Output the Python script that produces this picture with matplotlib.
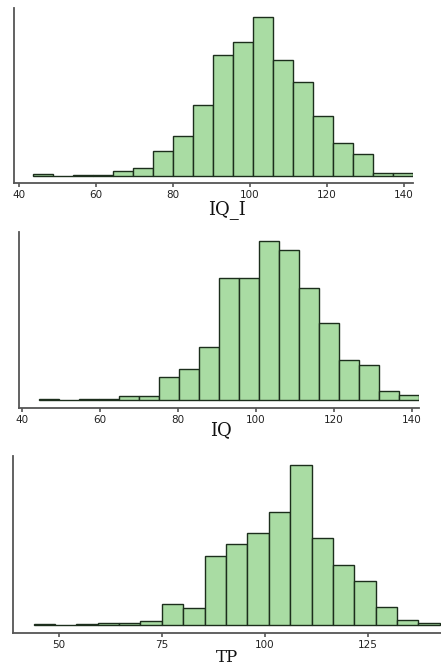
import numpy as np
import matplotlib
matplotlib.use('Agg')
import matplotlib.pyplot as plt

# Histogram bins (counts are in arbitrary units, y axis unlabeled)
iqi_start, iqi_width = 43.6, 5.195
iqi_counts = [3, 0, 1, 1, 7, 12, 37, 60, 107, 181, 200, 238, 174, 140, 90, 50, 33, 5, 5]

iq_start, iq_width = 44.4, 5.126
iq_counts = [2, 0, 1, 1, 6, 6, 35, 47, 80, 183, 183, 239, 225, 168, 116, 60, 53, 13, 7]

tp_start, tp_width = 43.8, 5.19
tp_counts = [1, 0, 1, 2, 2, 5, 31, 25, 102, 120, 136, 168, 238, 129, 89, 65, 27, 7, 3]

fill = '#a9dca3'
edge = '#1c2e1c'

fig = plt.figure(figsize=(4.41, 6.66), dpi=100)


def px_axes(left, top, right, bottom):
    W, H = 441, 666
    return fig.add_axes([left / W, 1 - bottom / H, (right - left) / W, (bottom - top) / H])


def hist_panel(ax, start, width, counts, xlim, ticks, label, label_x, label_y, ylim, label_size=13):
    edges = start + width * np.arange(len(counts))
    ax.bar(edges, counts, width=width, align='edge', color=fill,
           edgecolor=edge, linewidth=1.0)
    ax.set_xlim(*xlim)
    ax.set_ylim(*ylim)
    ax.set_xticks(ticks)
    ax.set_xticklabels([str(t) for t in ticks], fontsize=7.5, color='#222222')
    ax.set_yticks([])
    for s in ['top', 'right']:
        ax.spines[s].set_visible(False)
    for s in ['left', 'bottom']:
        ax.spines[s].set_linewidth(1.3)
        ax.spines[s].set_color('#555555')
    ax.tick_params(axis='x', length=3, width=1.2, color='#555555', pad=2)
    ax.set_xlabel(label, fontsize=label_size, family='DejaVu Serif', color='#111111')
    ax.xaxis.set_label_coords(label_x, label_y)


ax1 = px_axes(14, 8, 413, 183)
hist_panel(ax1, iqi_start, iqi_width, iqi_counts, (38.7, 142.3),
           [40, 60, 80, 100, 120, 140], 'IQ_I', 0.534, -0.1, (-10.5, 251.5))

ax2 = px_axes(19, 232, 419, 408)
hist_panel(ax2, iq_start, iq_width, iq_counts, (39.2, 141.8),
           [40, 60, 80, 100, 120, 140], 'IQ', 0.505, -0.075, (-12, 252))

ax3 = px_axes(13, 456, 441, 633)
hist_panel(ax3, tp_start, tp_width, tp_counts, (38.8, 142.7),
           [50, 75, 100, 125], 'TP', 0.50, -0.09, (-12.5, 251.5), label_size=12)

fig.savefig('out.png', dpi=100)
